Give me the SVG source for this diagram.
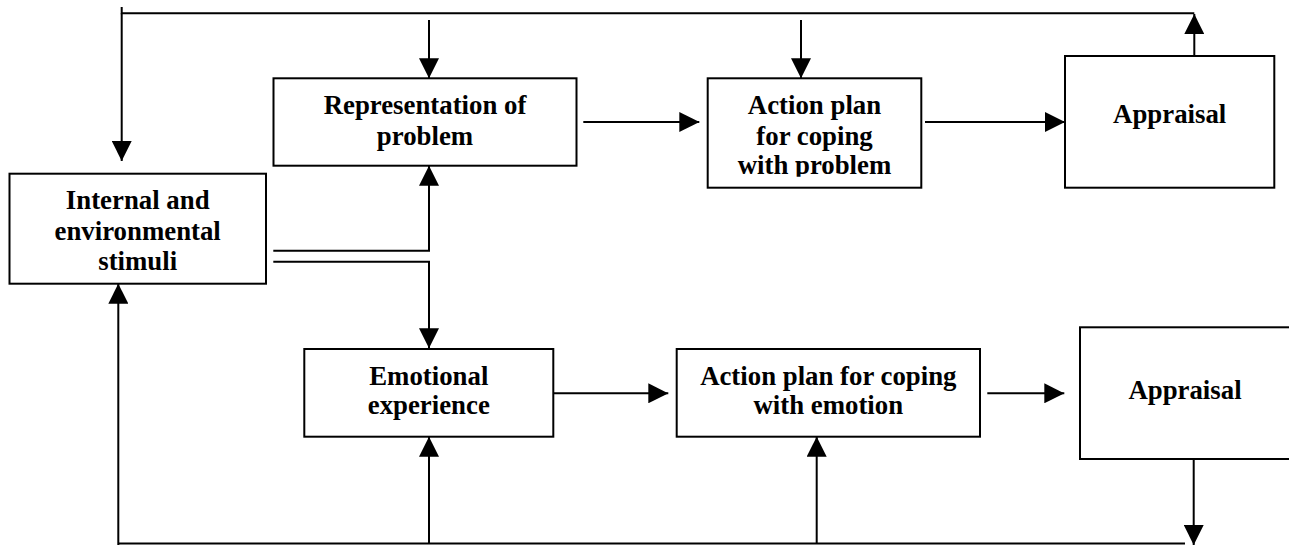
<svg xmlns="http://www.w3.org/2000/svg" width="1289" height="545" viewBox="0 0 1289 545">
  <style>
    .box { fill: #ffffff; stroke: #000000; stroke-width: 2; }
    .lbl { font-family: "Liberation Serif", "Times New Roman", serif; font-weight: bold; font-size: 26.8px; fill: #000000; text-anchor: middle; }
    .wire { fill: none; stroke: #000000; stroke-width: 2; }
    .arrow { fill: none; stroke: #000000; stroke-width: 2; marker-end: url(#head); }
  </style>
  <defs>
    <marker id="head" markerUnits="userSpaceOnUse" markerWidth="20" markerHeight="20" refX="20" refY="10" orient="auto">
      <path d="M0,0 L20,10 L0,20 Z" fill="#000000"/>
    </marker>
    <clipPath id="clipActionProblem">
      <rect x="707.7" y="78.3" width="213.6" height="98.5"/>
    </clipPath>
  </defs>

  <rect width="1289" height="545" fill="#ffffff"/>

  <!-- connectors -->
  <g id="connectors">
    <!-- feedback loop along the top -->
    <path class="wire" d="M121.7,7 V13.3 H1194.3"/>
    <path class="arrow" d="M121.7,13.3 V161"/>
    <path class="arrow" d="M429,20 V78.3"/>
    <path class="arrow" d="M801,20 V78.3"/>
    <path class="arrow" d="M1194.3,56 V14"/>
    <!-- problem-focused row -->
    <path class="arrow" d="M583.3,122 H699.3"/>
    <path class="arrow" d="M925,122 H1065"/>
    <!-- stimuli split -->
    <path class="arrow" d="M273.3,250.7 H429 V165.7"/>
    <path class="arrow" d="M273.3,261.7 H429 V348.3"/>
    <!-- emotion-focused row -->
    <path class="arrow" d="M553.3,393.3 H668.3"/>
    <path class="arrow" d="M987.3,393.3 H1064.3"/>
    <!-- feedback loop along the bottom -->
    <path class="wire" d="M118.3,543.5 H1185"/>
    <path class="arrow" d="M1193.7,459 V545"/>
    <path class="arrow" d="M118.3,545 V283.7"/>
    <path class="arrow" d="M429,543.5 V436.7"/>
    <path class="arrow" d="M816.7,543.5 V436.7"/>
  </g>

  <g id="stimuli">
    <rect class="box" x="9.5" y="173.7" width="256.5" height="110"/>
    <text class="lbl" x="137.7" y="209.3">Internal and</text>
    <text class="lbl" x="137.7" y="239.5">environmental</text>
    <text class="lbl" x="137.7" y="270">stimuli</text>
  </g>

  <g id="representation">
    <rect class="box" x="273.5" y="78.3" width="303" height="87.4"/>
    <text class="lbl" x="425" y="114">Representation of</text>
    <text class="lbl" x="425" y="145">problem</text>
  </g>

  <g id="action-problem">
    <rect class="box" x="707.7" y="78.3" width="213.6" height="109.4"/>
    <g clip-path="url(#clipActionProblem)">
      <text class="lbl" x="814.5" y="113.5">Action plan</text>
      <text class="lbl" x="814.5" y="145">for coping</text>
      <text class="lbl" x="814.5" y="173.5">with problem</text>
    </g>
  </g>

  <g id="appraisal-problem">
    <rect class="box" x="1065" y="56" width="209.3" height="131.7"/>
    <text class="lbl" x="1169.7" y="122.7">Appraisal</text>
  </g>

  <g id="emotional">
    <rect class="box" x="304.3" y="349" width="249" height="87.7"/>
    <text class="lbl" x="428.8" y="385">Emotional</text>
    <text class="lbl" x="428.8" y="414">experience</text>
  </g>

  <g id="action-emotion">
    <rect class="box" x="676.7" y="349" width="303.3" height="87.7"/>
    <text class="lbl" x="828.3" y="385">Action plan for coping</text>
    <text class="lbl" x="828.3" y="414">with emotion</text>
  </g>

  <g id="appraisal-emotion">
    <rect class="box" x="1080" y="327.3" width="220" height="131.7"/>
    <text class="lbl" x="1185" y="399.3">Appraisal</text>
  </g>
</svg>
